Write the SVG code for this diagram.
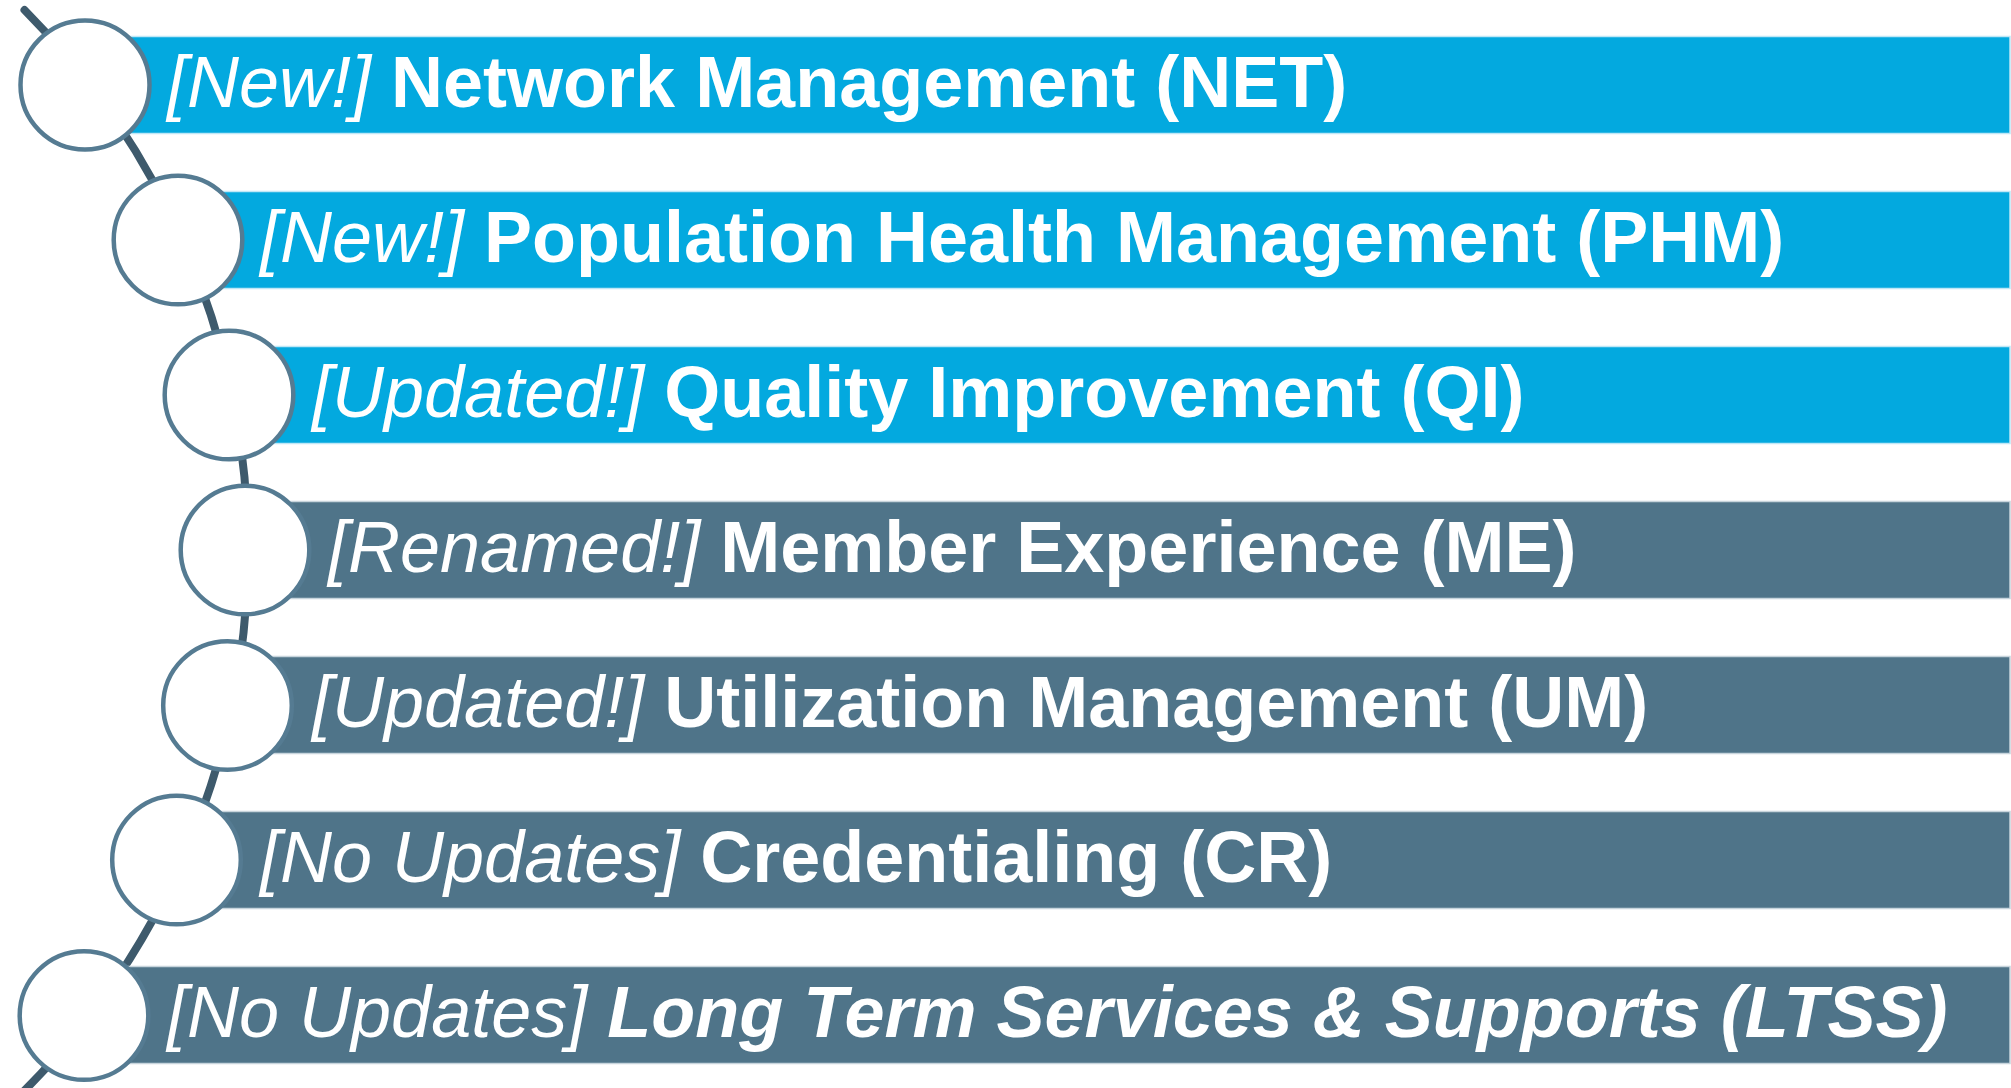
<svg xmlns="http://www.w3.org/2000/svg" width="2011" height="1088" viewBox="0 0 2011 1088">
  <style>
    .bar-blue { fill: #03A9DF; stroke: #BFE7F6; stroke-width: 1.5; }
    .bar-slate { fill: #4F7489; stroke: #C7D4DC; stroke-width: 1.5; }
    .ring { fill: #FFFFFF; stroke: #557B92; stroke-width: 4.5; }
    .spine { fill: none; stroke: #3E5A6C; stroke-width: 8; stroke-linecap: round; }
    .label { font-family: "Liberation Sans", Arial, sans-serif; font-size: 72px; fill: #FFFFFF; }
    .tag { font-style: italic; font-weight: normal; }
    .title { font-weight: bold; }
    .title-it { font-weight: bold; font-style: italic; }
  </style>

  <rect width="2011" height="1088" fill="#FFFFFF"/>

  <!-- curved spine running behind the circles -->
  <g id="connectors">
    <path class="spine" d="M 24.5 10 A 765 765 0 0 1 22 1093"/>
  </g>

  <g id="item-net">
    <rect class="bar-blue" x="85" y="36.5" width="1925" height="97"/>
    <circle class="ring" cx="85" cy="85" r="64.5"/>
    <text class="label" x="167" y="106.5"><tspan class="tag">[New!] </tspan><tspan class="title">Network Management (NET)</tspan></text>
  </g>

  <g id="item-phm">
    <rect class="bar-blue" x="178" y="191.5" width="1832" height="97"/>
    <circle class="ring" cx="178" cy="240" r="64.3"/>
    <text class="label" x="260" y="261.5"><tspan class="tag">[New!] </tspan><tspan class="title">Population Health Management (PHM)</tspan></text>
  </g>

  <g id="item-qi">
    <rect class="bar-blue" x="229" y="346.5" width="1781" height="97"/>
    <circle class="ring" cx="229" cy="395" r="64.3"/>
    <text class="label" x="312" y="416.5"><tspan class="tag">[Updated!] </tspan><tspan class="title">Quality Improvement (QI)</tspan></text>
  </g>

  <g id="item-me">
    <rect class="bar-slate" x="245" y="501.5" width="1765" height="97"/>
    <circle class="ring" cx="245" cy="550" r="64.3"/>
    <text class="label" x="328" y="571.5"><tspan class="tag">[Renamed!] </tspan><tspan class="title">Member Experience (ME)</tspan></text>
  </g>

  <g id="item-um">
    <rect class="bar-slate" x="227" y="656.5" width="1783" height="97"/>
    <circle class="ring" cx="227.5" cy="705.5" r="64.3"/>
    <text class="label" x="312" y="726.5"><tspan class="tag">[Updated!] </tspan><tspan class="title">Utilization Management (UM)</tspan></text>
  </g>

  <g id="item-cr">
    <rect class="bar-slate" x="176" y="811.5" width="1834" height="97"/>
    <circle class="ring" cx="176.5" cy="860" r="64.3"/>
    <text class="label" x="260" y="881.5"><tspan class="tag">[No Updates] </tspan><tspan class="title">Credentialing (CR)</tspan></text>
  </g>

  <g id="item-ltss">
    <rect class="bar-slate" x="84" y="966.5" width="1926" height="97"/>
    <circle class="ring" cx="84" cy="1015.5" r="64.3"/>
    <text class="label" x="167" y="1036.5"><tspan class="tag">[No Updates] </tspan><tspan class="title-it">Long Term Services &amp; Supports (LTSS)</tspan></text>
  </g>
</svg>
